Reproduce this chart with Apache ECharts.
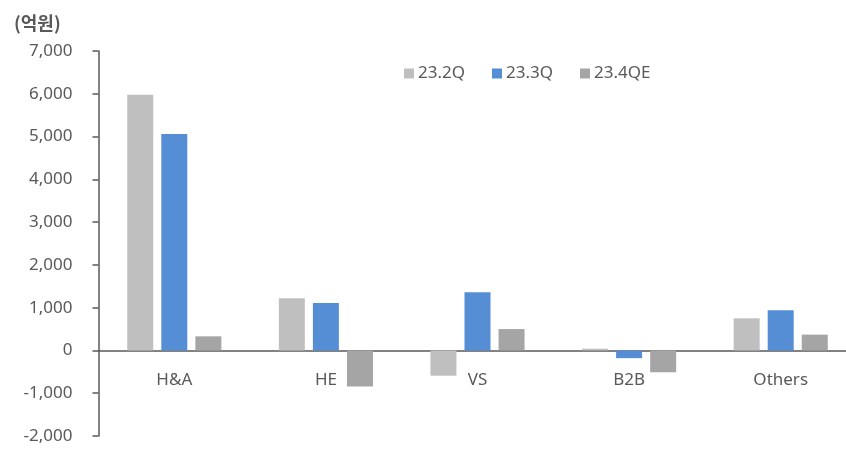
<!DOCTYPE html>
<html>
<head>
<meta charset="utf-8">
<script src="https://cdn.jsdelivr.net/npm/echarts@6/dist/echarts.min.js"></script>
<style>
  html, body { margin: 0; padding: 0; background: #fff; }
  #chart { width: 846px; height: 449px; }
</style>
</head>
<body>
<div id="chart"></div>
<script>
// Quarterly operating profit by division (unit: 억원)
const categories = ['H&A', 'HE', 'VS', 'B2B', 'Others'];
const seriesNames = ['23.2Q', '23.3Q', '23.4QE'];
const q2Values = [5980, 1220, -590, 40, 750];
const q3Values = [5060, 1110, 1360, -180, 940];
const q4Values = [330, -840, 500, -510, 370];
const yTicks = { min: -2000, max: 7000, interval: 1000 };
const unitLabel = '(억원)';

const colors = ['#BFBFBF', '#558ED5', '#A5A5A5'];
const textColor = '#595959';
const axisColor = '#595959';
const fontFamily = '"Noto Sans", "Noto Sans CJK KR", sans-serif';

// plot area
const gridTop = 51;
const gridHeight = 385;
// category axis sits on the zero line: shift it up from the grid bottom
const zeroOffset = gridHeight * (0 - yTicks.min) / (yTicks.max - yTicks.min);

const chart = echarts.init(document.getElementById('chart'), null, { renderer: 'canvas' });

const allValues = [q2Values, q3Values, q4Values];

chart.setOption({
  animation: false,
  backgroundColor: '#ffffff',
  textStyle: { fontFamily: fontFamily },
  title: {
    text: unitLabel,
    left: 9,
    top: 9,
    textStyle: { fontSize: 18, fontWeight: 'bold', color: textColor, fontFamily: '"Noto Sans CJK KR", sans-serif' }
  },
  legend: {
    data: seriesNames,
    left: 399,
    top: 60,
    icon: 'rect',
    itemWidth: 10,
    itemHeight: 10,
    itemGap: 27,
    textStyle: { fontSize: 17, color: textColor, padding: [0, 0, 0, -1] }
  },
  grid: {
    left: 98.5,
    top: gridTop,
    width: 758,
    height: gridHeight,
    containLabel: false,
    outerBoundsMode: 'none'
  },
  xAxis: {
    type: 'category',
    data: categories,
    offset: -zeroOffset,
    axisLine: { onZero: false, lineStyle: { color: axisColor, width: 1.5 } },
    axisTick: { show: false },
    axisLabel: { color: textColor, fontSize: 17, margin: 21 }
  },
  yAxis: {
    type: 'value',
    min: yTicks.min,
    max: yTicks.max,
    interval: yTicks.interval,
    splitLine: { show: false },
    axisLine: { show: true, lineStyle: { color: axisColor, width: 1.5 } },
    axisTick: { show: true, length: 6, lineStyle: { color: axisColor, width: 1.5 } },
    axisLabel: {
      color: textColor,
      fontSize: 17,
      margin: 26,
      formatter: v => v.toLocaleString('en-US')
    }
  },
  series: seriesNames.map((name, i) => ({
    name: name,
    type: 'bar',
    data: allValues[i],
    barWidth: 26,
    barGap: '31%',
    itemStyle: { color: colors[i] }
  }))
});
</script>
</body>
</html>
